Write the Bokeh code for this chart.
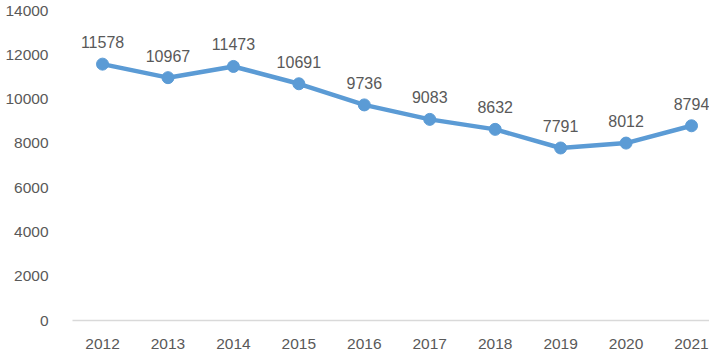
from bokeh.plotting import figure
from bokeh.models import ColumnDataSource, FixedTicker, Range1d, LabelSet
from bokeh.core.properties import value
from bokeh.embed import file_html
from bokeh.resources import INLINE

years = [2012, 2013, 2014, 2015, 2016, 2017, 2018, 2019, 2020, 2021]
values = [11578, 10967, 11473, 10691, 9736, 9083, 8632, 7791, 8012, 8794]
y_ticks = [0, 2000, 4000, 6000, 8000, 10000, 12000, 14000]

src = ColumnDataSource(dict(x=years, y=values, lbl=[str(v) for v in values]))

p = figure(width=709, height=351, output_backend="svg", toolbar_location=None,
           x_range=Range1d(2011.541, 2021.275), y_range=Range1d(0, 14000),
           min_border_left=72, min_border_right=0, min_border_top=10, min_border_bottom=31)
p.outline_line_color = None
p.xgrid.visible = False
p.ygrid.visible = False
p.background_fill_color = "white"
p.border_fill_color = "white"

FONT = "Liberation Sans"
TC = "#595959"

p.xaxis.ticker = FixedTicker(ticks=years)
p.yaxis.ticker = FixedTicker(ticks=y_ticks)
for ax in (p.xaxis, p.yaxis):
    ax.major_tick_line_color = None
    ax.minor_tick_line_color = None
    ax.major_label_text_font = FONT
    ax.major_label_text_font_size = "15.5px"
    ax.major_label_text_color = TC
p.yaxis.axis_line_color = None
p.yaxis.major_label_standoff = 18
p.xaxis.axis_line_color = "#D9D9D9"
p.xaxis.axis_line_width = 1.5
p.xaxis.major_label_standoff = 12

p.line("x", "y", source=src, line_color="#5B9BD5", line_width=4.5)
p.scatter("x", "y", source=src, size=12, fill_color="#5B9BD5", line_color="#5B9BD5")

labels = LabelSet(x="x", y="y", text="lbl", source=src, text_align="center",
                  text_baseline="bottom", y_offset=16, text_font=value(FONT),
                  text_font_size=value("16px"), text_color=TC)
p.add_layout(labels)

open("out.html", "w").write(file_html(p, INLINE))
